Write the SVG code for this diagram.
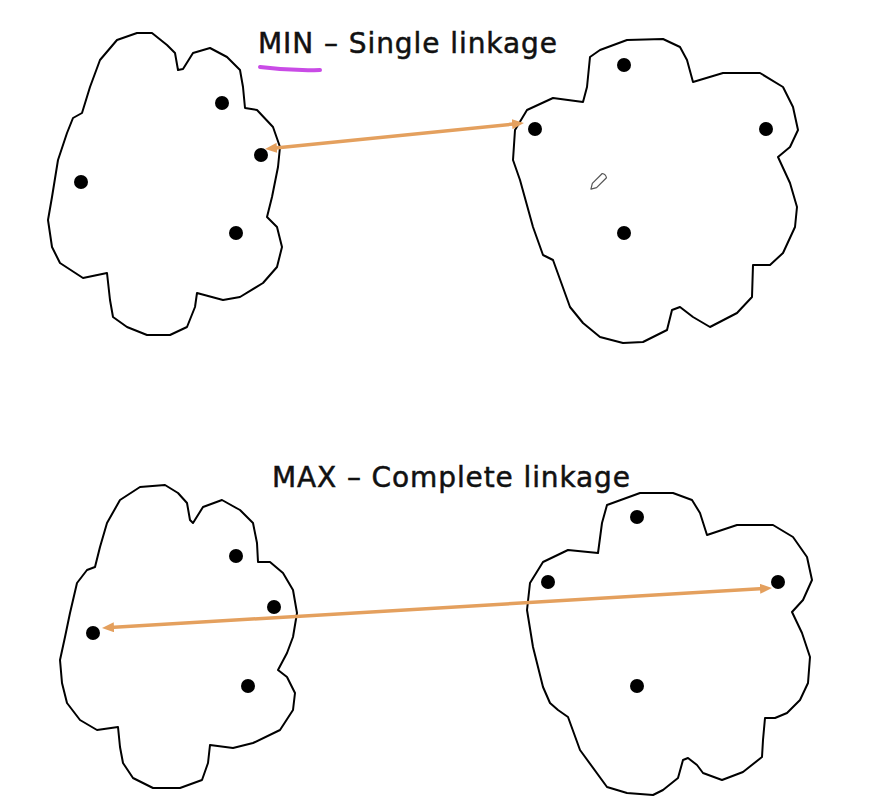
<svg xmlns="http://www.w3.org/2000/svg" width="887" height="812" viewBox="0 0 887 812">
  <defs>
    <style>
      .blob { fill: #ffffff; stroke: #000000; stroke-width: 2; stroke-linejoin: round; }
      .dot { fill: #000000; }
      .title { font-family: "DejaVu Sans", "Noto Sans", "Liberation Sans", sans-serif; font-size: 28px; fill: #111111; stroke: #111111; stroke-width: 0.5px; }
      .link { stroke: #E4A05E; stroke-width: 3.5; fill: none; }
    </style>
    <marker id="head" viewBox="0 0 12 10" refX="4" refY="5" markerWidth="12" markerHeight="10" markerUnits="userSpaceOnUse" orient="auto-start-reverse">
      <path d="M0,0 L12,5 L0,10 Z" fill="#E4A05E"/>
    </marker>
  </defs>
  <rect width="887" height="812" fill="#ffffff"/>

  <g id="title-min">
    <text class="title" x="258" y="53" textLength="299" lengthAdjust="spacing">MIN – Single linkage</text>
    <path d="M260,67 Q290,71 320,70" stroke="#C94BE6" stroke-width="4" fill="none" stroke-linecap="round"/>
  </g>

  <g id="title-max">
    <text class="title" x="272" y="487" textLength="358" lengthAdjust="spacing">MAX – Complete linkage</text>
  </g>

  <g id="cluster-top-left">
    <polygon class="blob" points="137,33 152,33 167,45 175,53 178,70 183,69 193,53 210,48 227,57 240,70 243,87 245,108 257,110 273,127 280,147 278,167 272,197 267,217 277,227 282,247 277,267 263,283 240,297 223,300 197,293 195,307 187,327 170,335 147,335 127,327 113,317 110,300 107,273 83,278 60,263 52,247 48,220 52,197 58,160 67,133 73,118 82,113 90,87 100,60 117,40"/>
    <circle class="dot" cx="222" cy="103" r="7"/>
    <circle class="dot" cx="261" cy="155" r="7"/>
    <circle class="dot" cx="81" cy="182" r="7"/>
    <circle class="dot" cx="236" cy="233" r="7"/>
  </g>

  <g id="cluster-top-right">
    <polygon class="blob" points="600,50 627,40 663,39 680,47 687,60 693,82 723,73 760,73 783,87 793,107 798,130 790,147 778,157 790,183 797,207 795,227 783,253 770,265 753,265 752,297 737,313 710,327 693,317 680,307 672,310 667,330 643,342 623,343 600,337 583,323 570,307 553,260 543,255 533,227 520,180 513,160 515,130 527,110 553,98 583,102 587,87 590,57"/>
    <circle class="dot" cx="624" cy="65" r="7"/>
    <circle class="dot" cx="535" cy="129" r="7"/>
    <circle class="dot" cx="766" cy="129" r="7"/>
    <circle class="dot" cx="624" cy="233" r="7"/>
  </g>

  <g id="pencil" transform="translate(598,182) rotate(-45)">
    <path d="M-10,0 L-5,-3 L9,-3 Q11,0 9,3 L-5,3 Z" fill="#ffffff" stroke="#555555" stroke-width="1.2" stroke-linejoin="round"/>
  </g>

  <g id="cluster-bottom-left">
    <polygon class="blob" points="140,487 165,485 178,493 187,503 190,520 193,523 203,507 222,500 240,510 253,523 257,543 258,562 270,562 283,573 293,590 297,613 293,637 287,653 278,670 287,677 295,693 293,710 280,730 253,743 233,748 210,745 208,763 202,780 180,788 153,788 133,778 123,763 120,747 118,727 97,730 80,720 67,703 62,683 60,660 65,637 70,613 77,583 87,570 95,567 100,547 107,523 120,500"/>
    <circle class="dot" cx="236" cy="556" r="7"/>
    <circle class="dot" cx="274" cy="607" r="7"/>
    <circle class="dot" cx="93" cy="633" r="7"/>
    <circle class="dot" cx="248" cy="686" r="7"/>
  </g>

  <g id="cluster-bottom-right">
    <polygon class="blob" points="607,505 640,493 673,493 692,500 700,513 707,535 737,525 773,525 793,537 807,557 812,580 803,600 792,612 802,633 810,657 808,683 800,700 787,713 775,718 765,718 763,740 762,757 743,772 722,780 703,773 697,765 688,758 683,760 678,778 663,790 653,795 627,793 607,787 580,750 568,717 558,710 550,703 543,687 533,647 527,610 530,583 543,562 568,550 598,553 602,523"/>
    <circle class="dot" cx="637" cy="517" r="7"/>
    <circle class="dot" cx="548" cy="582" r="7"/>
    <circle class="dot" cx="778" cy="582" r="7"/>
    <circle class="dot" cx="637" cy="686" r="7"/>
  </g>

  <g id="connectors">
    <line class="link" x1="273" y1="148.2" x2="516" y2="123.8" marker-start="url(#head)" marker-end="url(#head)"/>
    <line class="link" x1="110" y1="627.5" x2="764" y2="588.5" marker-start="url(#head)" marker-end="url(#head)"/>
  </g>
</svg>
